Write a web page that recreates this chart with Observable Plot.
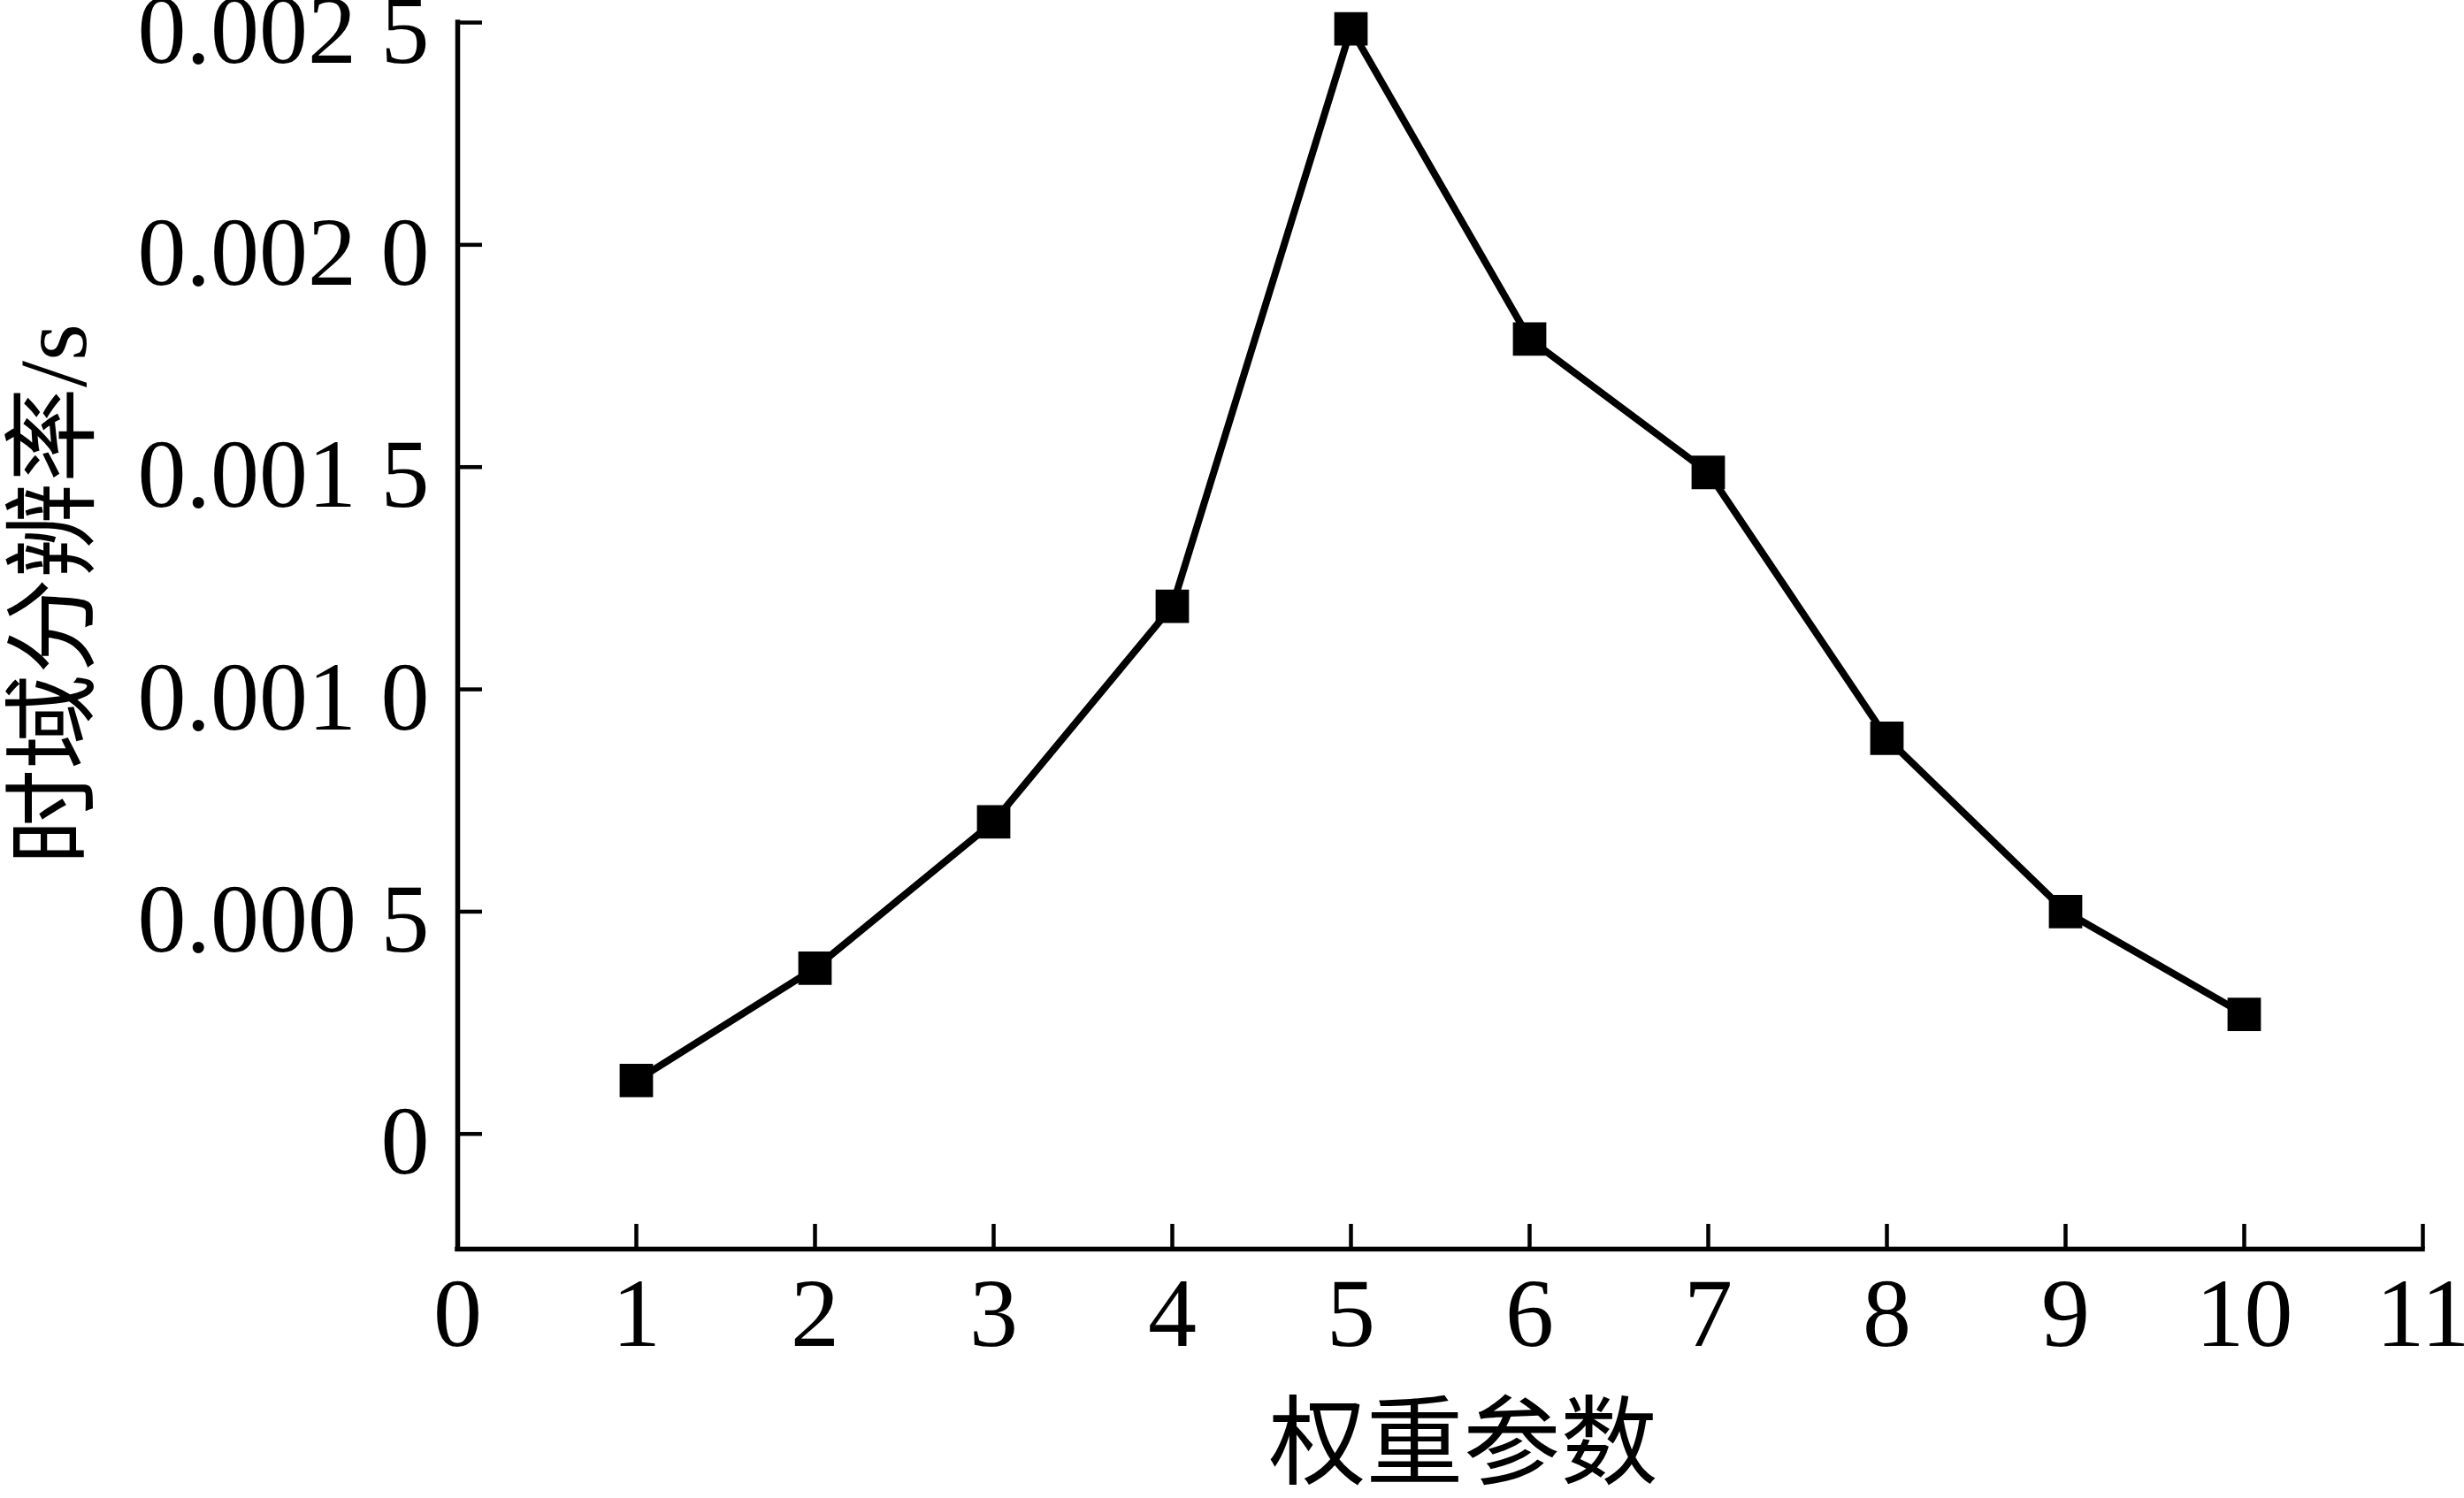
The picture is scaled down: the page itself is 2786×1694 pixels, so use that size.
<!DOCTYPE html>
<html>
<head>
<meta charset="utf-8">
<script src="https://cdn.jsdelivr.net/npm/d3@7"></script>
<script src="https://cdn.jsdelivr.net/npm/@observablehq/plot@0.6"></script>
<style>
  html, body { margin: 0; padding: 0; background: #fff; }
  #chart svg { display: block; }
</style>
</head>
<body>
<div id="chart"></div>
<script>
// ---- data ----
const weights = [1, 2, 3, 4, 5, 6, 7, 8, 9, 10];
const resolution = [0.00012, 0.000373, 0.000702, 0.001187, 0.002486, 0.001788, 0.001488, 0.00089, 0.0005, 0.000269];
const xTicks = [0, 1, 2, 3, 4, 5, 6, 7, 8, 9, 10, 11];
const yTicks = [0, 0.0005, 0.001, 0.0015, 0.002, 0.0025];
const yTickLabels = ["0", "0.000 5", "0.001 0", "0.001 5", "0.002 0", "0.002 5"];
const xLabel = "权重参数";
const yLabel = "时域分辨率/s";
const xDomain = [0, 11];
const yDomain = [-0.000259, 0.0025];

const data = weights.map((w, i) => ({w, r: resolution[i]}));

const W = 2786, H = 1694;
const mL = 517, mR = 47, mT = 25, mB = 282;
const plotW = W - mL - mR, plotH = H - mT - mB;
const font = "'Liberation Serif', 'Times New Roman', 'Noto Sans CJK SC', serif";
const fs = 110;
const tickLen = 28;

const chart = Plot.plot({
  width: W,
  height: H,
  marginLeft: mL,
  marginRight: mR,
  marginTop: mT,
  marginBottom: mB,
  style: {fontFamily: font, fontSize: fs + "px", color: "#000", background: "#fff"},
  x: {domain: xDomain},
  y: {domain: yDomain},
  marks: [
    // tick labels
    Plot.axisY({ticks: yTicks, tickFormat: (d) => yTickLabels[yTicks.indexOf(d)], tickSize: 0, tickPadding: 32, fontSize: fs, dy: 10, label: null}),
    Plot.axisX({ticks: xTicks, tickFormat: (d) => String(d), tickSize: 0, tickPadding: 31, fontSize: fs, label: null}),
    // inward ticks
    Plot.tickY(yTicks, {y: (d) => d, stroke: "#000", strokeWidth: 4.5, insetRight: plotW - tickLen}),
    Plot.tickX(xTicks, {x: (d) => d, stroke: "#000", strokeWidth: 4.5, insetTop: plotH - tickLen}),
    // axis lines
    Plot.ruleX([xDomain[0]], {stroke: "#000", strokeWidth: 5.5, strokeLinecap: "square"}),
    Plot.ruleY([yDomain[0]], {stroke: "#000", strokeWidth: 5.5, strokeLinecap: "square"}),
    // series
    Plot.line(data, {x: "w", y: "r", stroke: "#000", strokeWidth: 8}),
    Plot.dot(data, {x: "w", y: "r", symbol: "square", r: 21.3, fill: "#000", stroke: null}),
    // axis titles
    Plot.text([yLabel], {text: (d) => d, frameAnchor: "left", textAnchor: "middle", lineAnchor: "middle", rotate: -90, dx: -455, dy: -47, fontSize: 108, fill: "#000"}),
    Plot.text([xLabel], {text: (d) => d, frameAnchor: "bottom", textAnchor: "middle", lineAnchor: "middle", dx: 26, dy: 222, fontSize: 110, fill: "#000"})
  ]
});
document.getElementById("chart").appendChild(chart);
</script>
</body>
</html>
